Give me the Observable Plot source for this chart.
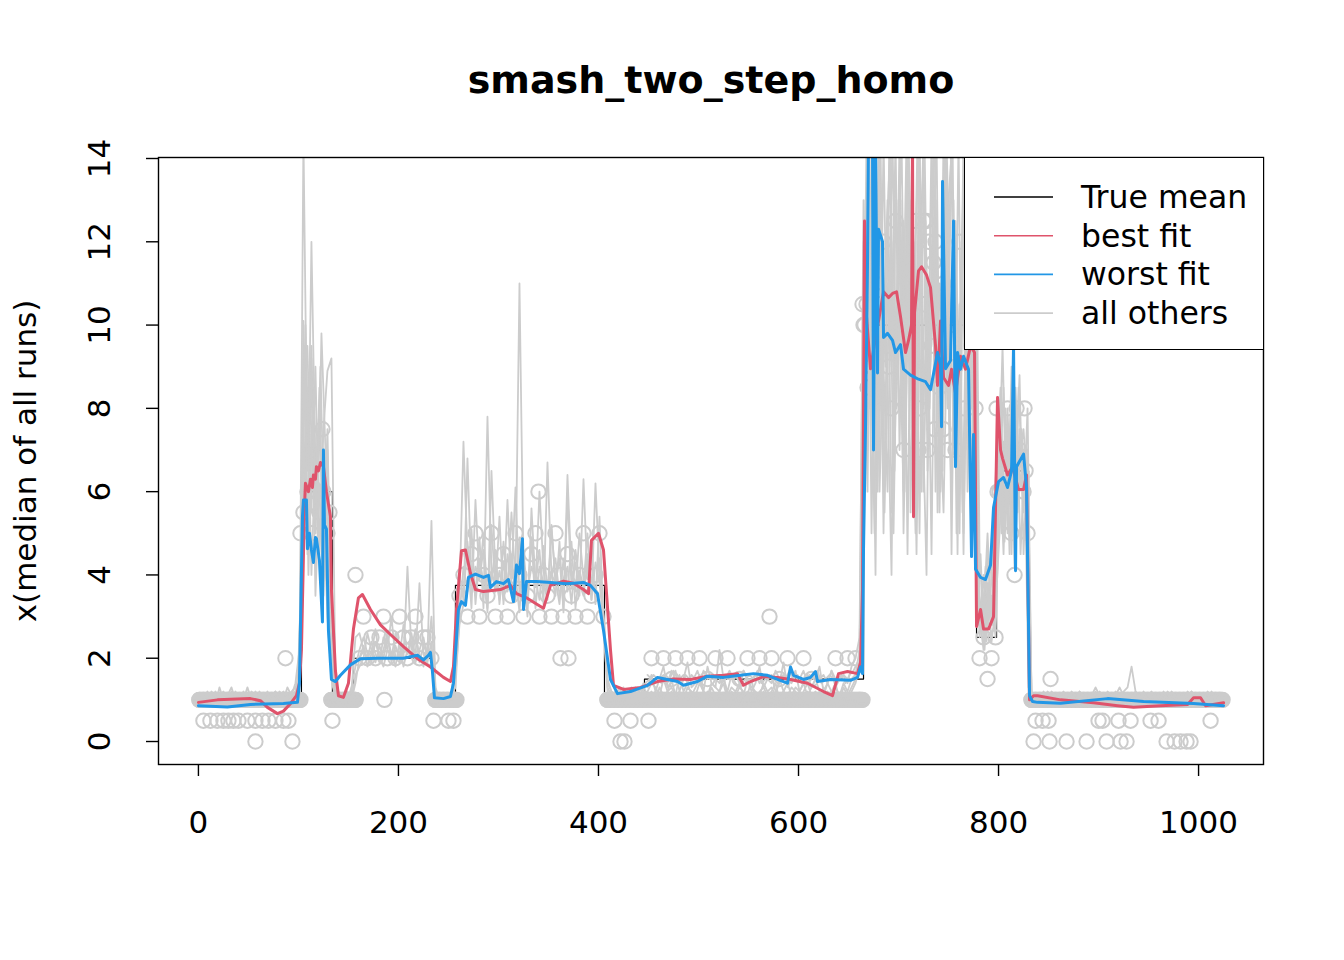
<!DOCTYPE html>
<html><head><meta charset="utf-8">
<script src="https://cdn.jsdelivr.net/npm/d3@7"></script>
<script src="https://cdn.jsdelivr.net/npm/@observablehq/plot@0.6"></script>
<style>
body{margin:0;background:#fff;font-family:"DejaVu Sans",sans-serif;}
#wrap{position:relative;width:1344px;height:960px;}
#legend{position:absolute;left:964px;top:157px;width:300px;height:193px;border:1.4px solid #000;background:#fff;box-sizing:border-box;}
</style></head><body><div id="wrap"></div>
<script>
const titleText = "smash_two_step_homo";
const yLabelText = "x(median of all runs)";
const xTicks = [0, 200, 400, 600, 800, 1000];
const yTicks = [0, 2, 4, 6, 8, 10, 12, 14];
const legendNames = ["True mean", "best fit", "worst fit", "all others"];
const legendColors = ["#000000", "#DF536B", "#2297E6", "#CCCCCC"];

// true mean (step function breakpoints)
const trueX = [1, 103, 134, 155, 236, 257, 406, 446, 665, 778, 798, 830, 1024];
const trueY = [1, 6, 1, 2, 1, 3.75, 1, 1.5, 10, 2.5, 6.5, 1, 1];

// medians that sit on a flat level at every position
const flatStart = [1, 133, 237, 409, 449, 833];
const flatEnd   = [102, 157, 258, 448, 664, 1024];
const flatValue = [1, 1, 1, 1, 1, 1];

// medians: main value every 4 positions, grouped by segment
const segStarts = [1, 105, 133, 161, 237, 261, 409, 449, 665, 781, 801, 833];
const medianMain = [
  [1,1,1,1,1,1,1,1,1,1,1,1,1,1,1,1,1,1,1,1,1,1,1,1,1,1],
  [5.5,6,5,6,5.5,6,5],
  [1,1,1,1,1,1,1],
  [2,3,2,2.5,2,2.5,3,2,2.5,2,3,2.5,2,2.5,3,2,2.5,2.5,2],
  [1,1,1,1,1,1],
  [3.5,4,3,4.5,5,3,4,3.5,5,3,4,4.5,3,3.5,5,4,3,3.5,4.5,5,3,4,3.5,3,5,4,3,4.5,3.5,3,4,5,3,3.5,4,5,3],
  [1,1,1,1,1,1,1,1,1,1],
  [1,2,1,1,2,1,1.5,2,1,1,2,1,1,2,1,1.5,1,2,1,1,2,1,1,1.5,1,2,1,1,2,1,1,2,1,1.5,1,2,1,1,1,2,1,1.5,1,1,1,1,1,2,1,1,2,1,2,1],
  [10,8.5,9,11,10.5,12,9.5,8,12.5,10,7,11,9,12.5,8,10.5,7,9.5,12,8.5,11,7,10,9,12,8,10.5,9.5,8],
  [2,2.5,3,2,2.5],
  [6,6.5,8,5,6.5,7,6,5],
  [1,1,1,1,1,1,1,1,1,1,1,1,1,1,1,1,1,1,1,1,1,1,1,1,1,1,1,1,1,1,1,1,1,1,1,1,1,1,1,1,1,1,1,1,1,1,1,1]
];
// further median points
const extraX = [5,12,19,25,30,35,40,49,57,64,70,77,85,90, 57,94, 87, 134, 157, 186, 124, 102, 131,
  235,250,255, 340,362,370, 416,432,450,422,426, 571, 789, 852,
  837,844,850,900,904,920,932,952,960,1012,
  835,851,868,888,908,922,928,968,976,982,988,992,
  725,728,730,735,664,668,666,720,757,745,736,690, 798,818,826,799,827,816];
const extraY = [0.5,0.5,0.5,0.5,0.5,0.5,0.5,0.5,0.5,0.5,0.5,0.5,0.5,0.5, 0,0, 2, 0.5, 4, 1, 7.5, 5, 5.5,
  0.5,0.5,0.5, 6,2,2, 0.5,0.5,0.5,0,0, 3, 1.5, 1.5,
  0.5,0.5,0.5,0.5,0.5,0.5,0.5,0.5,0.5,0.5,
  0,0,0,0,0,0,0,0,0,0,0,0,
  12.5,12.5,12,11.5,10.5,10.5,10,7,7,7.5,7.5,9, 8,8,8,6,6.5,4];

// all other runs (values every 4 positions, per segment)
const runA = [
  [1.0,1.1,0.9,1.0,1.2,1.0,0.9,1.1,1.3,1.0,1.0,1.2,0.9,1.1,1.0,1.2,1.0,0.9,1.1,1.0,1.2,1.1,1.0,1.2,1.3,1.5],
  [14.5,6.5,9.5,5,8.5,4,7],
  [2.5,1.2,1.0,1.1,1.0,1.3,1.8],
  [2.2,2.5,2.1,1.9,2.4,2.0,2.2,2.6,1.9,2.3,2.0,2.8,2.1,2.4,1.9,2.2,2.5,2.0,3.0],
  [1.3,1.0,1.1,1.0,1.2,2.0],
  [3.5,7.2,4.5,3.2,5.8,3.9,4.6,3.1,6.5,4.0,3.4,4.8,3.6,5.5,3.8,11.0,4.2,3.3,4.9,3.7,6.0,4.1,3.5,5.2,3.8,4.4,3.2,6.4,4.0,3.6,5.0,3.9,4.5,3.4,6.2,4.0,3.0],
  [1.5,1.2,1.1,1.3,1.0,1.2,1.1,1.3,1.2,1.4],
  [1.3,1.6,1.2,1.5,1.8,1.3,1.4,1.7,1.2,1.5,1.9,1.3,1.4,1.6,1.2,1.8,1.4,1.3,2.2,1.5,1.2,1.6,1.4,1.3,1.7,1.5,1.2,1.4,1.8,1.3,1.5,1.6,1.2,1.4,1.9,1.3,1.5,1.7,1.2,1.4,1.6,1.3,1.5,1.8,1.2,1.4,1.7,1.3,1.5,1.6,1.4,1.8,2.0,2.5],
  [12,6,14.5,8,13,5,11,9,14.5,7,12.5,4.5,13,8,14.5,6,11,9.5,13,5.5,12,8,14.5,7,10.5,4.5,12,6.5,9],
  [3.5,2.5,4.5,3.0,5.0],
  [8,5,7.5,4.5,8.5,6,7,5.5],
  [1.2,1.0,1.1,1.0,1.2,1.1,1.0,1.1,1.2,1.0,1.1,1.0,1.2,1.1,1.0,1.1,1.3,1.1,1.0,1.2,1.1,1.0,1.1,1.2,1.3,1.8,1.2,1.1,1.0,1.1,1.2,1.0,1.1,1.0,1.2,1.1,1.0,1.1,1.0,1.2,1.1,1.0,1.1,1.0,1.2,1.1,1.0,1.1]
];
const runB = [
  [0.9,1.0,1.2,1.0,0.9,1.3,1.0,1.1,0.9,1.2,1.0,0.9,1.1,1.0,1.2,0.9,1.0,1.1,1.0,1.2,0.9,1.0,1.3,1.1,1.2,1.8],
  [10.1,4.5,9.2,3.5,6.2,5.5,3.0],
  [1.5,1.0,1.1,0.9,1.2,1.0,1.6],
  [1.8,2.0,2.6,2.2,1.9,2.3,2.0,2.5,2.1,1.8,2.4,2.0,4.2,2.2,2.7,1.9,2.3,2.1,5.3],
  [1.2,0.9,1.0,1.1,1.0,1.6],
  [2.8,3.3,6.8,3.9,3.5,4.9,3.2,7.8,4.1,3.6,5.4,3.3,4.5,3.9,6.1,3.5,4.2,3.0,5.6,3.8,4.6,3.3,6.7,4.0,3.5,4.8,3.1,5.9,3.7,4.3,3.5,6.3,3.9,4.7,3.3,5.4,2.8],
  [1.3,1.1,1.2,1.0,1.3,1.1,1.2,1.0,1.3,1.2],
  [1.2,1.4,1.3,1.1,1.5,1.2,1.3,1.1,1.6,1.2,1.4,1.1,1.3,1.5,1.2,1.1,1.4,1.3,1.2,1.6,1.1,1.3,1.2,1.4,1.1,1.5,1.3,1.2,1.1,1.4,1.2,1.3,1.1,1.5,1.2,1.4,1.1,1.3,1.2,1.4,1.1,1.3,1.5,1.2,1.1,1.4,1.2,1.3,1.1,1.4,1.2,1.5,1.6,2.2],
  [9,14.5,5,12,7,14.5,8.5,4,13,10,6,14.5,7.5,12,5,13.5,8,14.5,6,11,9,13,4.5,12.5,8,14.5,6,11,5],
  [2.5,4.0,2.8,3.5,2.5],
  [6,8.5,5,9,4.8,7.5,5.5,8],
  [1.0,1.1,1.0,1.2,1.0,1.1,1.0,1.0,1.1,1.0,1.2,1.1,1.0,1.0,1.1,1.0,1.2,1.0,1.1,1.0,1.0,1.2,1.1,1.0,1.1,1.0,1.2,1.0,1.1,1.0,1.0,1.1,1.0,1.2,1.0,1.1,1.0,1.0,1.1,1.0,1.2,1.0,1.1,1.0,1.0,1.1,1.0,1.1]
];
const runC = [
  [1.1,0.9,1.0,1.2,1.1,0.9,1.0,1.0,1.2,0.9,1.1,1.0,1.3,1.0,0.9,1.1,1.0,1.2,0.9,1.0,1.1,1.2,1.0,1.1,1.4,2.2],
  [8,9.5,5.5,9,4.5,7.5,8.9],
  [9.2,1.3,1.0,1.0,1.1,1.0,1.4],
  [2.0,2.3,1.8,2.1,2.7,2.0,1.8,2.2,3.0,2.0,1.9,2.3,2.1,2.6,2.0,3.8,2.1,1.9,2.4],
  [1.0,1.1,1.0,0.9,1.1,1.3],
  [3.0,4.2,3.6,5.1,3.3,4.4,3.8,3.2,5.2,3.6,4.1,3.4,5.8,3.7,4.0,3.1,4.6,3.5,4.9,3.2,4.2,3.8,3.4,5.1,3.9,3.3,4.4,3.6,4.8,3.2,4.1,3.7,5.0,3.4,4.3,3.8,2.9],
  [1.2,1.1,1.0,1.2,1.1,1.1,1.3,1.2,1.1,1.3],
  [1.1,1.2,1.0,1.3,1.1,1.2,1.5,1.1,1.2,1.0,1.3,1.2,1.1,1.4,1.2,1.0,1.3,1.1,1.2,1.4,1.0,1.2,1.1,1.3,1.2,1.1,1.5,1.0,1.2,1.3,1.1,1.2,1.4,1.0,1.2,1.1,1.3,1.2,1.0,1.2,1.4,1.1,1.2,1.0,1.3,1.1,1.2,1.4,1.0,1.3,1.1,1.3,1.5,1.9],
  [13,7,11,4,14.5,9,6,12,8,14.5,5,10,12,6.5,14.5,8,11,4.5,13,7,14.5,9,6,11.5,5,13,7,9.5,14.5],
  [4.5,3,5,2.8,4.0],
  [7,4.5,8,5.2,6.5,8.8,4.5,7],
  [1.1,1.0,1.1,1.1,1.0,1.2,1.1,1.0,1.0,1.1,1.1,1.0,1.2,1.0,1.1,1.1,1.0,1.2,1.1,1.0,1.0,1.1,1.3,1.1,1.0,1.1,1.1,1.0,1.2,1.0,1.1,1.0,1.1,1.1,1.0,1.2,1.1,1.0,1.0,1.1,1.2,1.0,1.1,1.1,1.0,1.2,1.0,1.0]
];
const runD = [
  [1.0,1.0,1.1,0.9,1.0,1.1,1.2,1.0,1.0,1.1,0.9,1.1,1.0,1.2,1.1,1.0,0.9,1.0,1.1,1.2,1.0,0.9,1.1,1.0,1.2,1.6],
  [5.5,8.5,4,7,6,3.5,6.5],
  [1.8,1.1,0.9,1.0,1.0,1.2,2.5],
  [2.6,2.2,2.0,2.4,2.1,1.9,2.5,2.2,2.0,2.6,2.3,1.8,2.2,2.0,2.5,2.1,1.8,2.3,2.0],
  [1.1,1.0,1.0,1.1,1.0,1.8],
  [4.0,3.4,4.8,3.6,4.2,3.9,5.0,3.5,3.9,4.6,3.3,4.3,3.7,4.5,3.4,4.9,3.8,3.6,4.2,3.9,3.4,4.7,3.6,4.0,4.4,3.5,3.9,4.2,3.3,4.6,3.8,3.5,4.3,3.9,3.6,4.4,3.1],
  [1.4,1.2,1.1,1.1,1.2,1.0,1.1,1.2,1.0,1.2],
  [1.0,1.1,1.2,1.0,1.1,1.0,1.2,1.0,1.1,1.1,1.0,1.2,1.0,1.1,1.0,1.2,1.1,1.0,1.1,1.0,1.2,1.0,1.1,1.0,1.1,1.2,1.0,1.1,1.0,1.2,1.0,1.1,1.0,1.1,1.2,1.0,1.1,1.0,1.1,1.0,1.2,1.0,1.1,1.1,1.0,1.2,1.0,1.1,1.0,1.1,1.0,1.2,1.4,1.8],
  [7,12,10,14.5,6,9.5,13,5.5,9,12,7.5,14.5,9,5,11,14.5,6.5,10,12.5,8,5.5,10.5,14.5,7,9,5,10,8,12],
  [3.0,2.2,3.8,2.4,3.2],
  [5,7.2,6,7.8,5.5,6.8,7.5,6],
  [1.0,1.0,1.1,1.0,1.0,1.1,1.0,1.0,1.1,1.0,1.0,1.0,1.1,1.0,1.0,1.1,1.0,1.0,1.1,1.0,1.0,1.0,1.1,1.0,1.0,1.1,1.0,1.0,1.1,1.0,1.0,1.0,1.1,1.0,1.0,1.1,1.0,1.0,1.1,1.0,1.0,1.0,1.1,1.0,1.0,1.1,1.0,1.0]
];
// more runs, shown only where they leave the flat level (values every 4 positions)
const denseStarts = [99, 101, 102, 662, 663, 664, 447, 449];
const denseRuns = [
  [1.2,4,10,6,8.5,5,9.8,7,3,1.3],
  [1.5,7.5,5,12,6.5,8,4.5,7.5,2.5,1.1],
  [2,9.5,4,8,5.5,9,5,6,1.8,1.0],
  [3.5,9,14.5,7,12,14.5,5.5,10,14.5,8,13,6,14.5,10,4.5,12,14.5,7.5,11,14.5,6,9,13,14.5,5,10.5,14.5,7,9.5,3,4.5,2.2,3.8,2.8,6.5,8.5,4.8,7,5.2,8,4.5,6.8,1.3],
  [2.5,13,8,14.5,6,12,9,14.5,5,11,14.5,7,13,9.5,14.5,6,12.5,8,14.5,5.5,11,14.5,7,13,4.5,12,8.5,14.5,6,3.5,2.5,4.2,3,5,7.5,5,8,4.5,9,5.5,7.5,6,1.2],
  [6,14.5,10,5,14.5,8,12,14.5,6.5,13,9,14.5,5.5,11,14.5,8,4,12.5,14.5,9,6.5,14.5,10,7,14.5,5.5,11,9,14.5,2.8,3.6,2.4,4.4,3.2,6,9.5,5.5,7.8,4.2,8.5,6.2,5.5,1.1],
  [1.4,1.5,1.6,1.5,1.4,1.6,1.5,1.7,1.5,1.4,1.6,1.5,1.5,1.7,1.4,1.6,1.5,1.5,1.6,1.4,1.5,1.7,1.5,1.6,1.4,1.5,1.6,1.5,1.7,1.4,1.5,1.6,1.5,1.4,1.6,1.5,1.7,1.5,1.6,1.4,1.5,1.6,1.5,1.7,1.4,1.5,1.6,1.5,1.5,1.6,1.4,1.6,1.7,1.9],
  [1.6,1.5,1.4,1.5,1.6,1.4,1.7,1.5,1.5,1.6,1.4,1.6,1.5,1.4,1.7,1.5,1.6,1.5,1.4,1.6,1.5,1.5,1.6,1.4,1.7,1.5,1.5,1.6,1.4,1.6,1.5,1.4,1.7,1.5,1.6,1.5,1.4,1.6,1.5,1.7,1.4,1.5,1.6,1.5,1.6,1.4,1.7,1.5,1.5,1.6,1.5,1.5,1.6,1.8]
];

// best fit
const bestX = [0,19,52,62,69,79,85,92,98,101,103,106,107,110,112,114,115,117,118,120,122,125,128,132,133,137,140,145,150,155,160,164,172,182,192,205,219,232,245,252,255,258,263,267,272,277,285,302,312,318,328,338,345,352,365,375,385,390,393,400,405,412,415,425,442,459,475,492,509,525,539,545,552,565,579,592,609,625,634,640,649,659,662,664,666,668,672,677,680,685,690,694,698,702,707,710,713,714,715,716,720,723,728,732,737,739,742,745,750,753,757,762,767,772,776,778,782,785,790,795,799,802,804,809,814,820,825,828,831,835,839,862,895,919,935,962,989,995,1002,1007,1025];
const bestY = [0.94,1.0,1.03,0.98,0.82,0.67,0.73,0.91,1.1,1.4,2.2,5.6,6.2,6.0,6.3,6.1,6.4,6.3,6.6,6.5,6.7,6.6,6.0,5.4,3.65,1.7,1.1,1.06,1.4,2.7,3.45,3.53,3.17,2.8,2.57,2.28,1.99,1.79,1.54,1.44,1.8,3.17,4.58,4.6,4.04,3.65,3.6,3.65,3.75,3.55,3.45,3.3,3.2,3.75,3.85,3.8,3.65,3.55,4.83,5.0,4.6,2.2,1.35,1.25,1.3,1.44,1.5,1.49,1.57,1.59,1.63,1.35,1.44,1.56,1.54,1.49,1.4,1.2,1.1,1.63,1.68,1.63,1.9,3.65,12.5,10.2,8.95,9.7,10.1,10.8,10.66,10.76,10.8,10.2,9.34,9.63,10.0,14.5,5.4,10.3,11.3,11.4,11.2,10.9,9.5,8.55,10.1,8.74,8.55,8.94,8.36,9.25,8.94,9.5,9.34,2.76,3.17,2.7,2.7,3.0,8.26,7.0,6.8,6.4,6.6,6.05,6.05,6.4,1.0,1.1,1.1,1.0,0.93,0.86,0.82,0.86,0.89,1.05,1.05,0.86,0.93];

// worst fit
const worstX = [0,29,52,85,99,101,104,105,108,109,111,113,115,117,118,121,124,125,126,128,130,133,137,142,152,162,179,205,219,225,230,232,234,236,245,252,255,260,263,267,270,277,285,290,292,298,305,310,315,318,321,324,325,328,338,352,368,385,392,399,405,412,419,432,449,459,469,479,485,499,509,525,542,555,569,579,589,592,595,605,612,617,619,632,652,659,662,664,665,667,669,670,674,675,676,677,679,680,684,685,689,694,697,702,705,712,720,727,732,739,742,743,744,747,752,755,757,759,762,765,770,773,775,777,782,787,792,795,800,805,809,813,815,817,818,825,828,831,834,839,862,909,945,995,1025];
const worstY = [0.86,0.83,0.89,0.91,0.94,1.4,5.4,5.8,5.8,4.63,5.0,4.6,4.3,4.9,4.87,4.35,2.87,7.0,5.2,5.1,2.67,1.49,1.44,1.59,1.84,1.99,2.0,2.0,2.07,1.96,2.07,2.14,1.68,1.05,1.03,1.08,1.4,3.17,3.36,3.27,3.94,4.02,3.94,3.99,3.7,3.84,3.79,3.89,3.36,4.24,4.03,4.87,3.17,3.84,3.84,3.82,3.79,3.82,3.75,3.55,2.67,1.49,1.15,1.2,1.35,1.54,1.49,1.44,1.35,1.44,1.57,1.54,1.59,1.63,1.59,1.49,1.4,1.79,1.59,1.49,1.54,1.68,1.44,1.49,1.47,1.54,1.79,1.63,4.63,7.56,11.5,14.5,14.5,7.0,11.5,14.5,8.85,12.3,12.0,9.7,9.8,9.63,9.34,9.53,8.94,8.8,8.7,8.64,8.45,9.34,9.04,7.56,13.45,8.95,9.15,12.5,6.6,9.34,8.94,9.25,8.94,4.44,7.37,4.14,3.94,3.89,4.24,5.62,6.24,6.34,6.1,6.5,9.5,4.1,6.6,6.9,6.1,1.1,0.96,0.94,0.92,1.03,0.96,0.91,0.86];

// ---- build tables from the arrays ----
const trueMean = trueX.map((x, i) => ({x, y: trueY[i]}));
const medians = [];
flatStart.forEach((s, k) => { for (let x = s; x <= flatEnd[k]; x++) medians.push({x, y: flatValue[k]}); });
medianMain.forEach((vals, s) => vals.forEach((v, j) => medians.push({x: segStarts[s] + 4 * j, y: v})));
extraX.forEach((x, i) => medians.push({x, y: extraY[i]}));
const others = [];
[runA, runB, runC, runD].forEach((run, r) =>
  run.forEach((vals, s) => vals.forEach((v, j) => others.push({run: "r" + r, x: segStarts[s] + 4 * j, y: v}))));
denseRuns.forEach((vals, k) => vals.forEach((v, j) => others.push({run: "d" + k, x: denseStarts[k] + 4 * j, y: v})));
const best = bestX.map((x, i) => ({x, y: bestY[i]}));
const worst = worstX.map((x, i) => ({x, y: worstY[i]}));

const chart = Plot.plot({
  width: 1344, height: 960,
  marginLeft: 158, marginRight: 81, marginTop: 157, marginBottom: 196,
  style: {fontFamily: "DejaVu Sans, sans-serif", background: "white", color: "black"},
  x: {domain: [-39.92, 1064.92], axis: null},
  y: {domain: [-0.552, 14.024], axis: null},
  marks: [
    Plot.line(trueMean, {x: "x", y: "y", curve: "step-after", stroke: "black", strokeWidth: 1.2, clip: true}),
    Plot.dot(medians, {x: "x", y: "y", r: 7.2, stroke: "#CCCCCC", strokeWidth: 2, clip: true}),
    Plot.line(others, {x: "x", y: "y", z: "run", stroke: "#CCCCCC", strokeWidth: 1.8, clip: true}),
    Plot.line(best, {x: "x", y: "y", stroke: "#DF536B", strokeWidth: 3, clip: true}),
    Plot.line(worst, {x: "x", y: "y", stroke: "#2297E6", strokeWidth: 3, clip: true}),
    Plot.frame({stroke: "black", strokeWidth: 1.4}),
    Plot.axisX({ticks: xTicks, tickSize: 12, tickPadding: 34, fontSize: 31, label: null, strokeWidth: 1.4, tickFormat: d => String(d)}),
    Plot.axisY({ticks: yTicks, tickSize: 12, tickFormat: () => "", label: null, strokeWidth: 1.4}),
    Plot.text(yTicks, {y: d => d, text: d => String(d), frameAnchor: "left", dx: -58, rotate: -90, fontSize: 31, textAnchor: "middle", lineAnchor: "middle"}),
    Plot.text([yLabelText], {text: d => d, frameAnchor: "left", dx: -132, rotate: -90, fontSize: 31, textAnchor: "middle", lineAnchor: "middle"}),
    Plot.text([titleText], {text: d => d, frameAnchor: "top", dy: -77, fontSize: 38, fontWeight: "bold", textAnchor: "middle", lineAnchor: "middle"})
  ]
});
const wrap = document.getElementById("wrap");
wrap.appendChild(chart);

// legend box (top-right, inside the plot frame)
const leg = document.createElement("div");
leg.id = "legend";
wrap.appendChild(leg);
const lsvg = d3.select(leg).append("svg").attr("width", 298).attr("height", 191)
  .style("font-family", "DejaVu Sans, sans-serif");
legendNames.forEach((name, i) => {
  const cy = 39 + i * 38.7;
  lsvg.append("line").attr("x1", 29).attr("x2", 88).attr("y1", cy).attr("y2", cy)
    .attr("stroke", legendColors[i]).attr("stroke-width", 1.6);
  lsvg.append("text").attr("x", 116).attr("y", cy).attr("dy", "0.35em")
    .attr("font-size", 31.5).attr("fill", "black").text(name);
});
</script></body></html>
